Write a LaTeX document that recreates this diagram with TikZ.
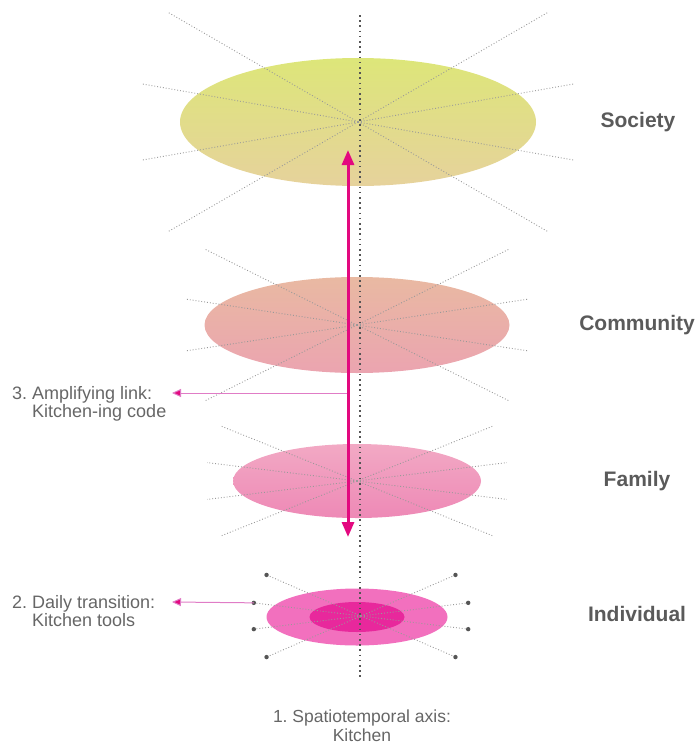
\documentclass[tikz,border=0pt]{standalone}
\usepackage{fontspec}
\setmainfont{Liberation Sans}
\usetikzlibrary{shapes.geometric,arrows.meta}
\frenchspacing

\definecolor{textgrey}{HTML}{5A5A5A}
\definecolor{notegrey}{HTML}{666666}
\definecolor{raygrey}{HTML}{999999}
\definecolor{dotgrey}{HTML}{555555}
\definecolor{socTop}{HTML}{DDE679}
\definecolor{socBot}{HTML}{E6D29C}
\definecolor{comTop}{HTML}{E9B9A2}
\definecolor{comBot}{HTML}{EBA4B0}
\definecolor{famTop}{HTML}{F2A9C4}
\definecolor{famBot}{HTML}{EE89B6}
\definecolor{indOuter}{HTML}{F270BE}
\definecolor{indInner}{HTML}{E8289C}
\definecolor{magenta}{HTML}{E3087F}
\definecolor{linkpink}{HTML}{E07CC6}

\tikzset{
  ray/.style={draw=raygrey, line width=0.9pt, dash pattern=on 0.9pt off 2pt},
  axisline/.style={draw=dotgrey, line width=1.6pt, dash pattern=on 1.6pt off 3.6pt},
  levellabel/.style={font=\fontsize{21}{24}\selectfont\bfseries, text=textgrey},
  notelabel/.style={font=\fontsize{18}{18.5}\selectfont, text=notegrey, inner sep=0pt},
  link/.style={draw=linkpink, line width=1pt, -{Triangle[length=9pt,width=8pt,fill=magenta]}},
}

\begin{document}
\begin{tikzpicture}[x=1pt,y=-1pt]
  \useasboundingbox (0,0) rectangle (697,744);

  \begin{scope}[every node/.style={ellipse, draw=none, inner sep=0pt}]
    \node[minimum width=356pt, minimum height=128pt, top color=socTop, bottom color=socBot] (society) at (358,122) {};
    \node[minimum width=305pt, minimum height=96pt, top color=comTop, bottom color=comBot] (community) at (357,325) {};
    \node[minimum width=248pt, minimum height=74pt, top color=famTop, bottom color=famBot] (family) at (357,481) {};
    \node[minimum width=181pt, minimum height=57pt, fill=indOuter] (individual) at (357,617) {};
    \node[minimum width=95pt, minimum height=30pt, fill=indInner] (self) at (357,617) {};
  \end{scope}

  \foreach \a/\r in {10/219, -10/219, 30/220, -30/220}
    \draw[ray] (society.center) -- ++(\a:\r) (society.center) -- ++(180+\a:\r);
  \foreach \a/\r in {8.6/174, -8.6/174, 26.5/170, -26.5/170}
    \draw[ray] (community.center) -- ++(\a:\r) (community.center) -- ++(180+\a:\r);
  \foreach \a/\r in {7/151, -7/151, 22/146, -22/146}
    \draw[ray] (family.center) -- ++(\a:\r) (family.center) -- ++(180+\a:\r);

  \coordinate (core) at (361,616);
  \foreach \a/\r/\n in {7/108/1, -7/108/2, 23.5/103/3, -23.5/103/4} {
    \draw[ray] (core) -- ++(\a:\r) coordinate (tipR\n);
    \draw[ray] (core) -- ++(180+\a:\r) coordinate (tipL\n);
    \fill[dotgrey] (tipR\n) circle (2.2pt) (tipL\n) circle (2.2pt);
  }

  \coordinate (axistop) at (360,15);
  \coordinate (axisbot) at (360,678);
  \draw[axisline] (axistop) -- (axisbot);

  \coordinate (up) at (348,150);
  \coordinate (down) at (348,537);
  \draw[magenta, line width=3pt, {Triangle[length=15pt,width=12pt]}-{Triangle[length=15pt,width=12pt]}] (down) -- (up);

  \node[levellabel] (lsoc) at (638,122) {Society};
  \node[levellabel] (lcom) at (637,325) {Community};
  \node[levellabel] (lfam) at (637,481) {Family};
  \node[levellabel] (lind) at (637,614) {Individual};

  \begin{scope}[every node/.style={notelabel}]
    \node[anchor=north west] (amp) at (12,386)
      {\begin{tabular}{@{}l@{}l@{}}3.\hspace*{5pt} & Amplifying link:\\ & Kitchen-ing code\end{tabular}};
    \node[anchor=north west] (daily) at (12,595)
      {\begin{tabular}{@{}l@{}l@{}}2.\hspace*{5pt} & Daily transition:\\ & Kitchen tools\end{tabular}};
    \node[anchor=north, align=center, font=\fontsize{17.5}{18.5}\selectfont] (axis) at (362,710) {1. Spatiotemporal axis:\\Kitchen};
  \end{scope}

  \coordinate (ampfrom) at (347,393);
  \coordinate (ampto) at (172,393);
  \draw[link] (ampfrom) -- (ampto);
  \coordinate (dailyto) at (172,602);
  \draw[link] (tipL1) -- (dailyto);
\end{tikzpicture}
\end{document}
